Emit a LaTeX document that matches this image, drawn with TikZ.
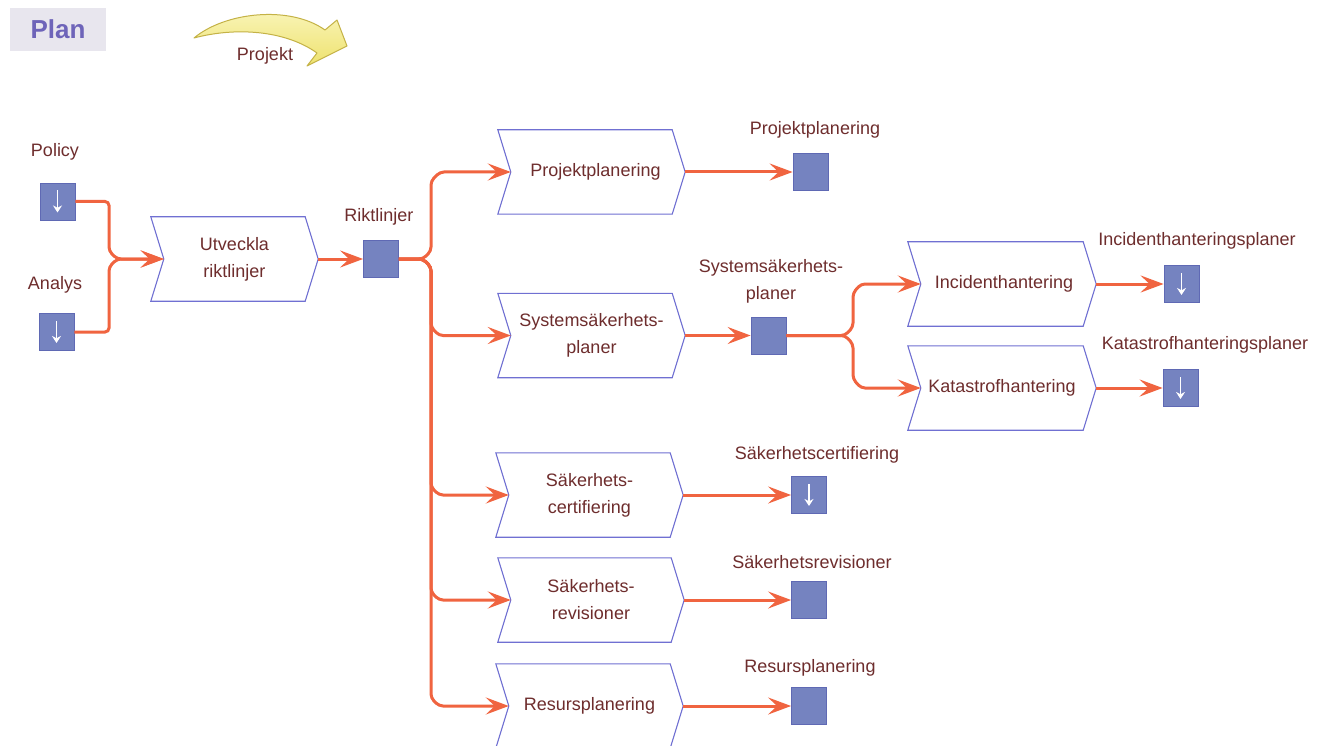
\documentclass[tikz,border=0pt]{standalone}
\usepackage{fontspec}
\setmainfont{Liberation Sans}
\usetikzlibrary{arrows.meta,calc}
\definecolor{lbl}{RGB}{110,45,45}
\definecolor{boxcol}{RGB}{112,112,210}
\definecolor{sqfill}{RGB}{117,131,192}
\definecolor{sqdraw}{RGB}{95,105,180}
\definecolor{conncol}{RGB}{240,100,64}
\definecolor{planbg}{RGB}{232,230,238}
\definecolor{plancol}{RGB}{110,100,185}
\definecolor{yelfill}{RGB}{238,226,110}
\definecolor{yeltop}{RGB}{250,246,190}
\definecolor{yeldraw}{RGB}{196,178,70}
\newcommand\chevbox[1]{%
  \draw[boxline] (#1.north west) -- ($(#1.north east)+(-13,0)$) -- (#1.east) -- ($(#1.south east)+(-13,0)$) -- (#1.south west) -- ($(#1.west)+(13,0)$) -- cycle;
  \coordinate (#1-in) at ($(#1.west)+(13,0)$);}
\newcommand\downarr[1]{%
  \draw[white, line width=1.8pt, -{Stealth[length=7pt,width=9pt]}] ($(#1.center)+(0,-11)$) -- ($(#1.center)+(0,11)$);}
\begin{document}
\begin{tikzpicture}[x=1pt,y=-1pt,
  every node/.style={font=\fontsize{18}{27}\selectfont, text=lbl},
  chev/.style={rectangle, minimum height=84pt, inner sep=0pt, align=center},
  boxline/.style={draw=boxcol, line width=1.1pt, line join=miter},
  sq/.style={rectangle, minimum width=35pt, minimum height=37pt, fill=sqfill, draw=sqdraw, line width=0.8pt, inner sep=0pt},
  conn/.style={draw=conncol, line width=3pt, rounded corners=4pt},
  arr/.style={-{Stealth[length=23pt,width=17pt,inset=9pt]}},
  lab/.style={align=center}]
\useasboundingbox (0,0) rectangle (1328,746);
\fill[white] (0,0) rectangle (1328,746);

% header
\node[fill=planbg, minimum width=96pt, minimum height=43pt, inner sep=0pt,
      font=\fontsize{26}{30}\selectfont\bfseries, text=plancol] (plan) at (58,29.5) {Plan};
\shade[top color=yeltop, bottom color=yelfill, draw=yeldraw, line width=1pt, line join=round]
  (194,38) .. controls (225,12) and (290,5) .. (325,30) -- (337,20) -- (347,46) -- (307,66) -- (317,53)
  .. controls (285,30) and (235,27) .. (194,38) -- cycle;
\node (projekt) at (265,56) {Projekt};

% process boxes
\node[chev, minimum width=167pt] (utv) at (234.5,259) {Utveckla\\riktlinjer};
\node[chev, minimum width=187pt] (pp) at (591.5,172) {\hspace*{8pt}Projektplanering};
\node[chev, minimum width=187pt] (ssp) at (591.5,335.5) {Systemsäkerhets-\\planer};
\node[chev, minimum width=188pt] (inc) at (1002,284) {\hspace*{4pt}Incidenthantering};
\node[chev, minimum width=188pt] (kat) at (1002,388) {Katastrofhantering};
\node[chev, minimum width=187pt] (scert) at (589.5,495) {Säkerhets-\\certifiering};
\node[chev, minimum width=186pt] (srev) at (591,600) {Säkerhets-\\revisioner};
\node[chev, minimum width=187pt] (res) at (589.5,706) {Resursplanering};
\foreach \n in {utv,pp,ssp,inc,kat,scert,srev,res} {\chevbox{\n}}

% squares
\node[sq] (pol) at (57.5,201.5) {};
\node[sq] (ana) at (56.5,332) {};
\node[sq] (rik) at (381,259) {};
\node[sq] (sqpp) at (810.5,172) {};
\node[sq] (sqssp) at (768.5,335.5) {};
\node[sq] (sqinc) at (1181.5,284) {};
\node[sq] (sqkat) at (1180.5,388) {};
\node[sq] (sqcert) at (809,495) {};
\node[sq] (sqrev) at (809,600) {};
\node[sq] (sqres) at (809,706) {};
\foreach \n in {pol,ana,sqinc,sqkat,sqcert} {\downarr{\n}}

% labels
\node (lpol) at (55,152) {Policy};
\node (lana) at (55,285) {Analys};
\node (lrik) at (379,217) {Riktlinjer};
\node (lpp) at (815,130) {Projektplanering};
\node[lab] (lssp) at (771,281) {Systemsäkerhets-\\planer};
\node (linc) at (1197,241) {Incidenthanteringsplaner};
\node (lkat) at (1205,345) {Katastrofhanteringsplaner};
\node (lcert) at (817,455) {Säkerhetscertifiering};
\node (lrev) at (812,562) {Säkerhetsrevisioner};
\node (lres) at (810,668) {Resursplanering};

% connectors
\draw[conn,arr] (pol.east) -- (109,201.5) -- (109,251) -- (117,259) -- (utv-in);
\draw[conn,arr] (ana.east) -- (109,332) -- (109,267) -- (117,259) -- (utv-in);
\draw[conn,arr] (utv.east) -- (rik.west);

\draw[conn,arr] (rik.east) -- (423,259) -- (431,251) -- (431,181) -- (440,172) -- (pp-in);
\draw[conn,arr] (rik.east) -- (423,259) -- (431,267) -- (431,327) -- (439,335.5) -- (ssp-in);
\draw[conn,arr] (rik.east) -- (423,259) -- (431,267) -- (431,487) -- (439,495) -- (scert-in);
\draw[conn,arr] (rik.east) -- (423,259) -- (431,267) -- (431,592) -- (439,600) -- (srev-in);
\draw[conn,arr] (rik.east) -- (423,259) -- (431,267) -- (431,698) -- (439,706) -- (res-in);

\draw[conn,arr] (pp.east) -- (sqpp.west);
\draw[conn,arr] (ssp.east) -- (sqssp.west);
\draw[conn,arr] (sqssp.east) -- (845,335.5) -- (853,327) -- (853,293) -- (861,284) -- (inc-in);
\draw[conn,arr] (sqssp.east) -- (845,335.5) -- (853,344) -- (853,379) -- (861,388) -- (kat-in);
\draw[conn,arr] (inc.east) -- (sqinc.west);
\draw[conn,arr] (kat.east) -- (sqkat.west);
\draw[conn,arr] (scert.east) -- (sqcert.west);
\draw[conn,arr] (srev.east) -- (sqrev.west);
\draw[conn,arr] (res.east) -- (sqres.west);
\end{tikzpicture}
\end{document}
